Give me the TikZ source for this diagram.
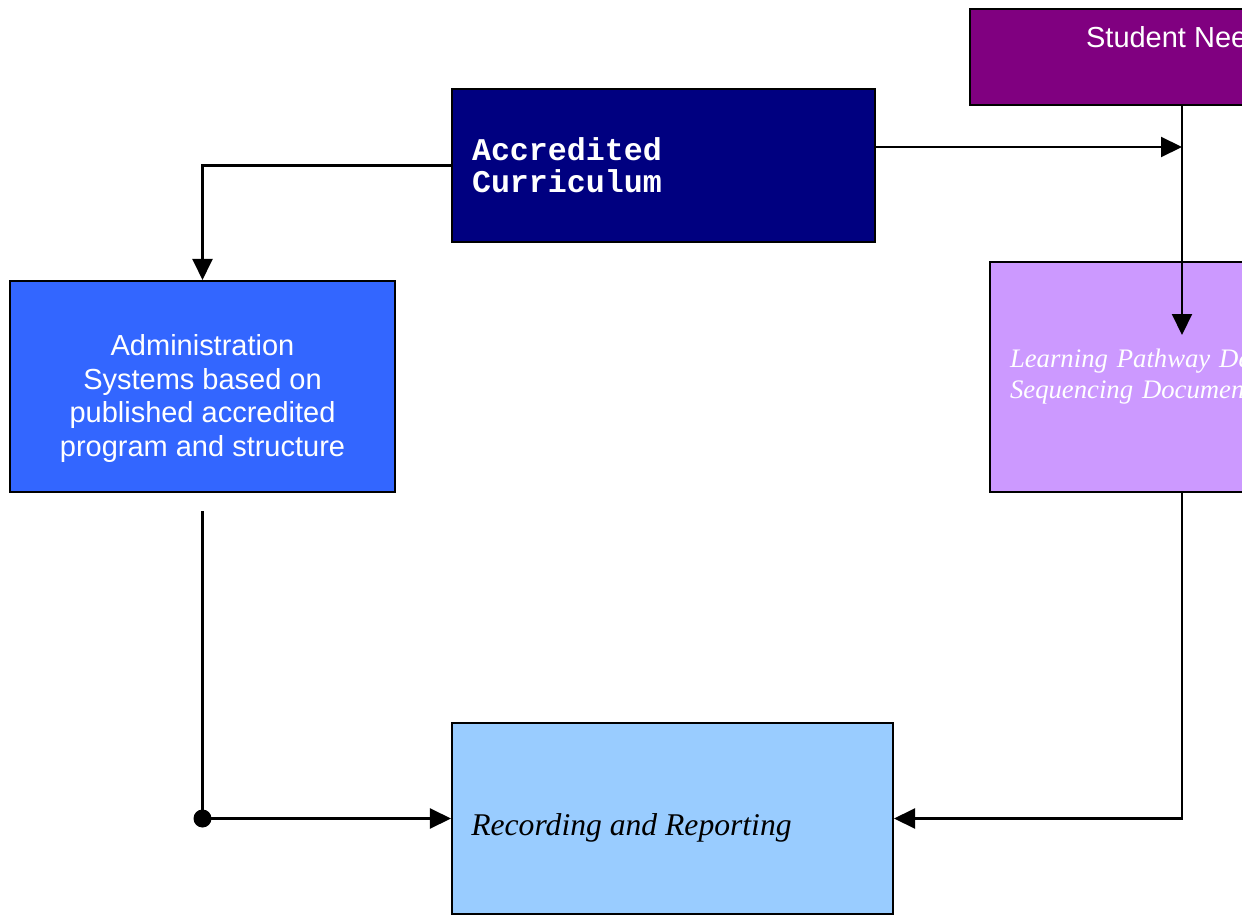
\documentclass[tikz,border=0pt]{standalone}
\usepackage{xcolor}
\usepackage{fontspec}
\setmainfont{Liberation Sans}
\setmonofont{Liberation Mono}
\newfontfamily\timesit{Liberation Serif}
\usetikzlibrary{arrows.meta,positioning}
\definecolor{needspurple}{HTML}{800080}
\definecolor{curricnavy}{HTML}{000080}
\definecolor{adminblue}{HTML}{3366FF}
\definecolor{pathlilac}{HTML}{CC99FF}
\definecolor{reportblue}{HTML}{99CCFF}
\begin{document}
\begin{tikzpicture}[x=0.02cm, y=-0.02cm,
	box/.style={rectangle, draw, line width=1.2pt, inner xsep=0.4cm},
	link/.style={line width=1.2pt, -{Triangle[length=0.42cm, width=0.4cm]}}]
				\useasboundingbox (0,0) rectangle (1242,916);
				\node[box, fill=needspurple, minimum width=8.48cm, minimum height=1.92cm, label={[anchor=north, yshift=-0.36cm, inner sep=0pt, text=white, font=\fontsize{16.5}{19.3}\selectfont]north:Student Needs}] (needs) at (1182,57) {};
				\node[box, fill=curricnavy, minimum height=3.06cm, text width=7.66cm, align=left, text=white, font=\ttfamily\bfseries\fontsize{18}{18.2}\selectfont] (curric) at (663.5,165.5) {Accredited\\Curriculum};
				\node[box, fill=adminblue, minimum width=7.7cm, minimum height=4.22cm, label={[yshift=-0.24cm, align=center, text=white, font=\fontsize{16.5}{19.3}\selectfont]center:Administration\\Systems based on\\published accredited\\program and structure}] (admin) at (202.5,386.5) {};
				\node[box, fill=pathlilac, minimum height=4.6cm, text width=6.88cm, align=left, text=white, font=\timesit\itshape\fontsize{15.2}{17.6}\selectfont] (pathway) at (1182,377) {Learning Pathway Design and\\Sequencing Documents};
				\node[box, fill=reportblue, minimum width=8.82cm, minimum height=3.82cm, label={[anchor=west, yshift=-0.18cm, inner xsep=0.4cm, font=\timesit\itshape\fontsize{18}{21}\selectfont]west:Recording and Reporting}] (report) at (672.5,818.5) {};
				
				\coordinate (joinpt) at (1182,147);
				\coordinate (pathtip) at (1182,335);
				\coordinate (adminout) at (202.5,511);
				
				\draw[link] (curric.west) -| (admin.north);
				\draw[link] (curric.east |- joinpt) -- (joinpt);
				\draw[link] (needs.south) -- (pathtip);
				\draw[link] (pathway.south) |- (report.east);
				\draw[link] (adminout) |- (report.west);
				\fill (adminout |- report.west) circle (0.18cm);
			\end{tikzpicture}
\end{document}
